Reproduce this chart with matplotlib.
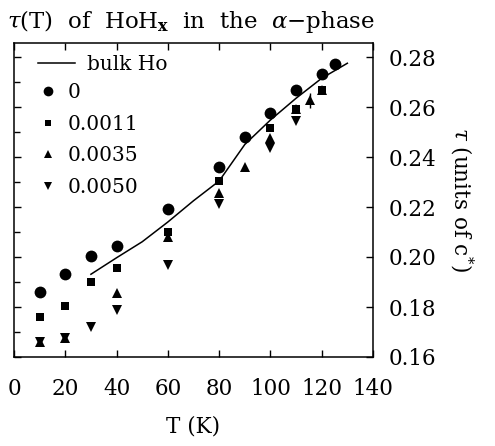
import matplotlib
matplotlib.use("Agg")
import matplotlib.pyplot as plt
from matplotlib.lines import Line2D

plt.rcParams["font.family"] = ["DejaVu Serif"]
plt.rcParams["mathtext.fontset"] = "dejavuserif"

# bulk Ho reference curve
bulk_T = [30, 40, 50, 60, 70, 80, 90, 100, 110, 120, 130]
bulk_tau = [0.1931, 0.1997, 0.2061, 0.2140, 0.2225, 0.2304, 0.2450, 0.2548, 0.2635, 0.2715, 0.2775]

# x = 0
x0_T = [10, 20, 30, 40, 60, 80, 90, 100, 110, 120, 125]
x0_tau = [0.1861, 0.1932, 0.2004, 0.2044, 0.2191, 0.2361, 0.2481, 0.2577, 0.2668, 0.2731, 0.2772]

# x = 0.0011
x1_T = [10, 20, 30, 40, 60, 80, 100, 110, 120]
x1_tau = [0.1759, 0.1805, 0.1901, 0.1955, 0.2101, 0.2304, 0.2516, 0.2593, 0.2670]

# x = 0.0035
x2_T = [10, 20, 40, 60, 80, 90, 100, 110, 120]
x2_tau = [0.1661, 0.1677, 0.1855, 0.2079, 0.2255, 0.2360, 0.2477, 0.2593, 0.2668]
# single 0.0035 point with error bar
x2e_T = [115.5]
x2e_tau = [0.2627]
x2e_err = [0.0029]

# x = 0.0050
x3_T = [10, 20, 30, 40, 60, 80, 100, 110]
x3_tau = [0.1661, 0.1677, 0.1721, 0.1788, 0.1968, 0.2212, 0.2437, 0.2543]

FS = 15.5
LFS = 14.5

fig = plt.figure(figsize=(4.95, 4.46), dpi=100)
ax = fig.add_axes([14 / 495, 1 - 357 / 446, 359 / 495, 314 / 446])

ax.plot(bulk_T, bulk_tau, color="black", lw=1.1)
ax.plot(x0_T, x0_tau, "o", color="black", ms=8.5, mew=0)
ax.plot(x1_T, x1_tau, "s", color="black", ms=6.3, mew=0)
ax.plot(x2_T, x2_tau, "^", color="black", ms=7.5, mew=0)
ax.errorbar(x2e_T, x2e_tau, yerr=x2e_err, fmt="^", color="black", ms=7.5, mew=0,
            elinewidth=1.0, capsize=8.5, capthick=1.0)
ax.plot(x3_T, x3_tau, "v", color="black", ms=7.5, mew=0)

ax.set_xlim(0, 140)
ax.set_ylim(0.16, 0.2856)
ax.set_xticks([0, 20, 40, 60, 80, 100, 120, 140])
ax.set_yticks([0.16, 0.18, 0.20, 0.22, 0.24, 0.26, 0.28])
ax.set_yticks([0.17, 0.19, 0.21, 0.23, 0.25, 0.27], minor=True)
ax.set_yticklabels(["0.16", "0.18", "0.20", "0.22", "0.24", "0.26", "0.28"])

ax.tick_params(axis="both", which="both", direction="in", width=1.0, labelsize=FS)
ax.tick_params(axis="both", which="major", length=5)
ax.tick_params(axis="y", which="minor", length=4)
ax.tick_params(axis="x", top=True, bottom=True, pad=15)
ax.tick_params(axis="y", left=True, right=True, labelleft=False, labelright=True, pad=11)
for s in ax.spines.values():
    s.set_linewidth(1.1)

ax.set_xlabel("T (K)", fontsize=FS, labelpad=11)
ax.yaxis.set_label_position("right")
ax.set_ylabel(r"$\tau$ (units of c$^{*}$)", fontsize=FS, rotation=270, labelpad=28)

ax.set_title(r"$\tau$(T)  of  HoH$_{\mathbf{x}}$  in  the  $\alpha$$-$phase",
             fontsize=16.5, loc="left", x=-0.02, pad=11)

# legend: line entry, then marker entries
h_line = [Line2D([], [], color="black", lw=1.1)]
leg1 = ax.legend(h_line, ["bulk Ho"], loc="upper left", bbox_to_anchor=(0.068, 0.962),
                 frameon=False, fontsize=LFS, handlelength=1.8, handletextpad=0.6,
                 borderpad=0, borderaxespad=0)
ax.add_artist(leg1)
h_mk = [Line2D([], [], ls="none", marker="o", color="black", ms=7, mew=0),
        Line2D([], [], ls="none", marker="s", color="black", ms=5, mew=0),
        Line2D([], [], ls="none", marker="^", color="black", ms=6, mew=0),
        Line2D([], [], ls="none", marker="v", color="black", ms=6, mew=0)]
ax.legend(h_mk, ["0", "0.0011", "0.0035", "0.0050"], loc="upper left",
          bbox_to_anchor=(0.066, 0.872), frameon=False, fontsize=LFS,
          handlelength=1.0, handletextpad=0.5, labelspacing=0.62,
          borderpad=0, borderaxespad=0)

fig.savefig("out.png", dpi=100)
